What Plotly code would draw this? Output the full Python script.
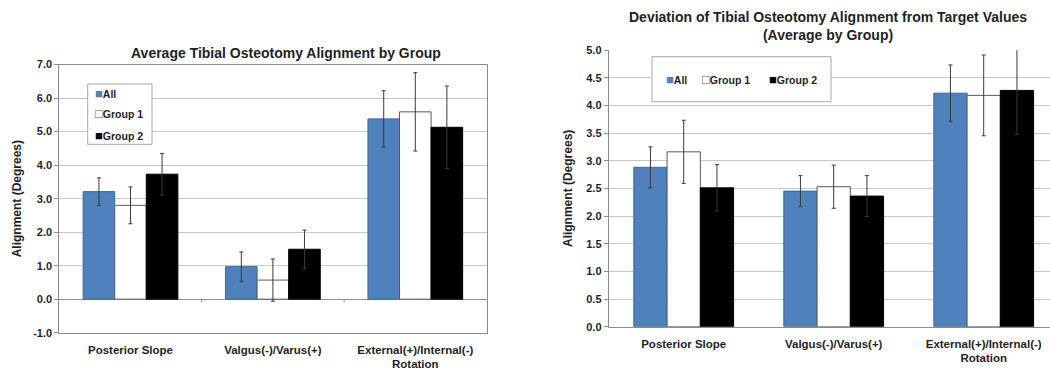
import plotly.graph_objects as go

# ---- data ----
categories = ["Posterior Slope", "Valgus(-)/Varus(+)", "External(+)/Internal(-)<br>Rotation"]
groups = ["All", "Group 1", "Group 2"]

# Average alignment by group (degrees) and error bar half-widths
avg_all = [3.21, 0.97, 5.38]
avg_g1 = [2.80, 0.57, 5.59]
avg_g2 = [3.73, 1.49, 5.13]
avg_err_all = [0.41, 0.44, 0.84]
avg_err_g1 = [0.55, 0.63, 1.17]
avg_err_g2 = [0.62, 0.57, 1.23]

# Deviation from target values (degrees) and error bar half-widths
dev_all = [2.88, 2.45, 4.22]
dev_g1 = [3.16, 2.53, 4.18]
dev_g2 = [2.51, 2.36, 4.27]
dev_err_all = [0.37, 0.28, 0.51]
dev_err_g1 = [0.57, 0.39, 0.73]
dev_err_g2 = [0.42, 0.37, 0.80]

left_ticks = [-1, 0, 1, 2, 3, 4, 5, 6, 7]
right_ticks = [0, 0.5, 1, 1.5, 2, 2.5, 3, 3.5, 4, 4.5, 5]

# ---- styling ----
W, H = 1050, 370
FONT = "Liberation Sans, Arial, sans-serif"
TXT = "#1f1f1f"
GRID = "#c6c6c6"
AXIS = "#8c8c8c"
ERR = "#3a3a3a"
fills = ["#4F81BD", "#FFFFFF", "#000000"]
edges = ["#3F6796", "#595959", "#000000"]


def px_x(v):
    return v / W


def px_y(v):
    return 1 - v / H


fig = go.Figure()

left_sets = [(avg_all, avg_err_all), (avg_g1, avg_err_g1), (avg_g2, avg_err_g2)]
right_sets = [(dev_all, dev_err_all), (dev_g1, dev_err_g1), (dev_g2, dev_err_g2)]

for i, name in enumerate(groups):
    vals, errs = left_sets[i]
    fig.add_trace(go.Bar(
        x=categories, y=vals, name=name, showlegend=False,
        marker=dict(color=fills[i], line=dict(color=edges[i], width=1)),
        error_y=dict(type="data", array=errs, color=ERR, thickness=1, width=2),
        xaxis="x", yaxis="y",
    ))
for i, name in enumerate(groups):
    vals, errs = right_sets[i]
    fig.add_trace(go.Bar(
        x=categories, y=vals, name=name, showlegend=False,
        marker=dict(color=fills[i], line=dict(color=edges[i], width=1)),
        error_y=dict(type="data", array=errs, color=ERR, thickness=1, width=2),
        xaxis="x2", yaxis="y2",
    ))

catfont = dict(family=FONT, size=11.5, color=TXT)
tickfont = dict(family=FONT, size=11, color=TXT)
titlefont = dict(family=FONT, size=12, color=TXT)
cat_text = ["<b>%s</b>" % c for c in categories]

fig.update_layout(
    template="none",
    width=W, height=H,
    margin=dict(l=0, r=0, t=0, b=0, autoexpand=False),
    paper_bgcolor="white", plot_bgcolor="white",
    barmode="group", bargap=0.335, bargroupgap=0,
    font=dict(family=FONT, color=TXT),
    showlegend=False,
    xaxis=dict(
        domain=[px_x(59.3), px_x(486.5)], anchor="y", automargin=False,
        type="category", range=[-0.5, 2.5],
        tickvals=categories, ticktext=cat_text,
        showgrid=False, showline=True, mirror=True, linecolor=AXIS, linewidth=1,
        ticks="", tickfont=catfont, ticklabelstandoff=6,
    ),
    yaxis=dict(
        domain=[px_y(332.7), px_y(64.6)], anchor="x", automargin=False,
        range=[-1, 7], tickvals=left_ticks,
        ticktext=["<b>%.1f</b>" % v for v in left_ticks],
        showgrid=True, gridcolor=GRID, gridwidth=1,
        zeroline=True, zerolinecolor=AXIS, zerolinewidth=1,
        showline=True, mirror=True, linecolor=AXIS, linewidth=1,
        ticks="outside", ticklen=4, tickcolor=AXIS,
        tickfont=tickfont,
        title=dict(text="<b>Alignment (Degrees)</b>", font=titlefont, standoff=8),
    ),
    xaxis2=dict(
        domain=[px_x(608.7), 1.0], anchor="y2", automargin=False,
        type="category", range=[-0.5, -0.5 + (W - 608.7) / 150.0],
        tickvals=categories, ticktext=cat_text,
        showgrid=False, showline=True, linecolor=AXIS, linewidth=1,
        ticks="", tickfont=catfont, ticklabelstandoff=6,
    ),
    yaxis2=dict(
        domain=[px_y(326.7), px_y(50)], anchor="x2", automargin=False,
        range=[0, 5], tickvals=right_ticks,
        ticktext=["<b>%.1f</b>" % v for v in right_ticks],
        showgrid=True, gridcolor=GRID, gridwidth=1, zeroline=False,
        showline=True, linecolor=AXIS, linewidth=1,
        ticks="outside", ticklen=4, tickcolor=AXIS,
        tickfont=tickfont,
        title=dict(text="<b>Alignment (Degrees)</b>", font=titlefont, standoff=10),
    ),
)

shapes = []
# category boundary ticks on the zero line of the left chart
for b in [0.5, 1.5]:
    shapes.append(dict(type="line", xref="x", yref="y", x0=b, x1=b, y0=0, y1=-0.1,
                       line=dict(color=AXIS, width=1)))

# legend frames
shapes.append(dict(type="rect", xref="paper", yref="paper",
                   x0=px_x(87.7), x1=px_x(152), y0=px_y(144.3), y1=px_y(84),
                   fillcolor="white", line=dict(color="#a6a6a6", width=1), layer="above"))
shapes.append(dict(type="rect", xref="paper", yref="paper",
                   x0=px_x(652), x1=px_x(831), y0=px_y(101.7), y1=px_y(56.7),
                   fillcolor="white", line=dict(color="#a6a6a6", width=1), layer="above"))
fig.update_layout(shapes=shapes)

swatch = [
    '<span style="color:#4F81BD;font-size:13px">■</span>',
    '<span style="color:#595959;font-size:13px">□</span>',
    '<span style="color:#000000;font-size:13px">■</span>',
]
legend_font = dict(family=FONT, size=10.5, color=TXT)

annotations = [
    dict(text="<b>Average Tibial Osteotomy Alignment by Group</b>",
         x=px_x(286), y=px_y(53), xref="paper", yref="paper",
         xanchor="center", yanchor="middle", showarrow=False,
         font=dict(family=FONT, size=14, color=TXT)),
    dict(text="<b>Deviation of Tibial Osteotomy Alignment from Target Values<br>(Average by Group)</b>",
         x=px_x(828), y=px_y(26), xref="paper", yref="paper",
         xanchor="center", yanchor="middle", showarrow=False,
         font=dict(family=FONT, size=14, color=TXT)),
]

# vertical legend in left chart
left_rows = [93.3, 114, 135]
for i, name in enumerate(groups):
    annotations.append(dict(text=swatch[i] + "<b>" + name + "</b>",
                            x=px_x(93), y=px_y(left_rows[i]), xref="paper", yref="paper",
                            xanchor="left", yanchor="middle", showarrow=False,
                            font=legend_font))

# horizontal legend in right chart
right_cols = [664, 700, 767]
for i, name in enumerate(groups):
    annotations.append(dict(text=swatch[i] + "<b>" + name + "</b>",
                            x=px_x(right_cols[i]), y=px_y(79.5), xref="paper", yref="paper",
                            xanchor="left", yanchor="middle", showarrow=False,
                            font=legend_font))

fig.update_layout(annotations=annotations)

fig.write_html("out.html")
